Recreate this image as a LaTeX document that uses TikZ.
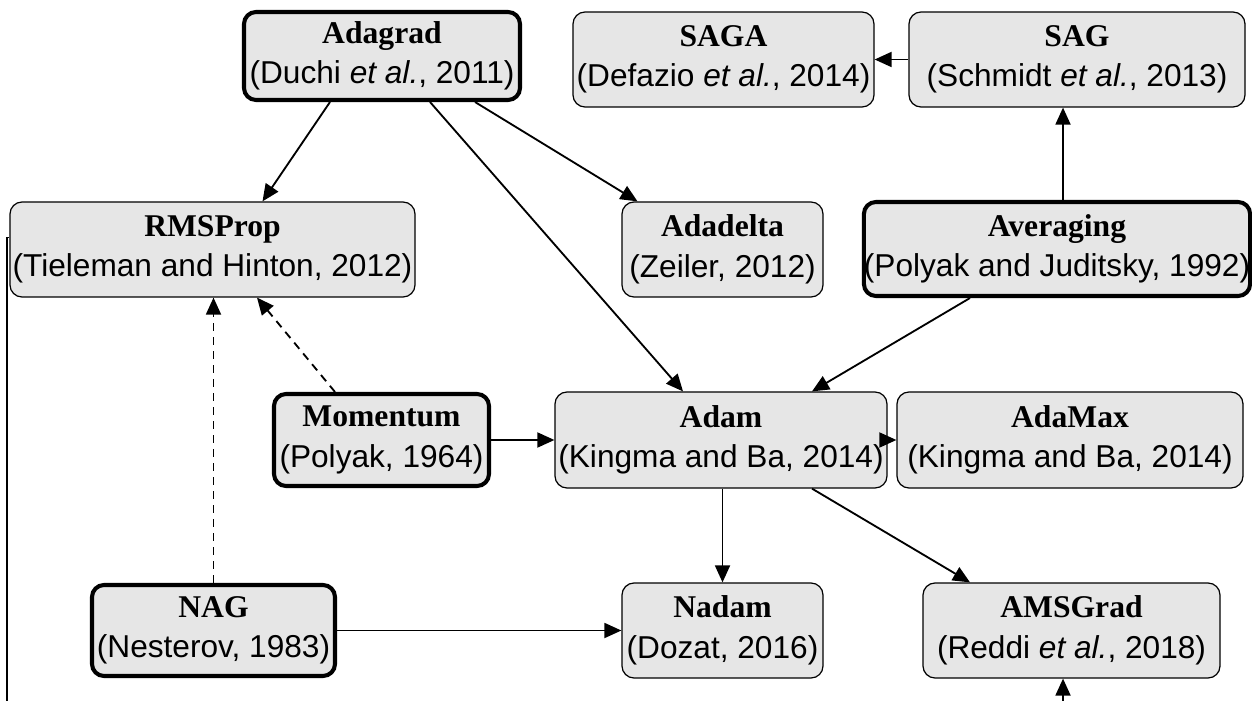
\documentclass[tikz,border=0pt]{standalone}
\usepackage{fontspec}
\setmainfont{Liberation Serif}
\newfontfamily\lsans{Liberation Sans}
\usetikzlibrary{arrows.meta}
\tikzset{
  box/.style={draw=black, fill=boxgray, rounded corners=0.24cm, line width=0.7pt,
    align=center, inner sep=0pt, minimum height=1.9cm,
    font=\fontsize{18}{23}\selectfont},
  thickbox/.style={box, line width=2.3pt},
  arr/.style={line width=1.05pt, -{Triangle[length=0.34cm,width=0.3cm]}},
  darr/.style={arr, dash pattern=on 0.16cm off 0.12cm}
}
\definecolor{boxgray}{HTML}{E6E6E6}
\newcommand{\ttl}[2]{\textbf{#1}\\{\lsans #2}}
\begin{document}
\begin{tikzpicture}
\useasboundingbox (0,0) rectangle (25.04,14);
\clip (0,0) rectangle (25.04,14);
\node[thickbox, minimum width=5.52cm, minimum height=1.76cm] (ada) at (7.64,12.88) {\ttl{Adagrad}{(Duchi \textit{et al.}, 2011)}};
\node[box, minimum width=6.02cm] (saga) at (14.47,12.81) {\ttl{SAGA}{(Defazio \textit{et al.}, 2014)}};
\node[box, minimum width=6.72cm] (sag) at (21.54,12.81) {\ttl{SAG}{(Schmidt \textit{et al.}, 2013)}};
\node[box, minimum width=8.1cm] (rms) at (4.25,9.01) {\ttl{RMSProp}{(Tieleman and Hinton, 2012)}};
\node[box, minimum width=4.02cm] (adadelta) at (14.45,9.01) {\ttl{Adadelta}{(Zeiler, 2012)}};
\node[thickbox, minimum width=7.52cm, minimum height=1.88cm] (avg) at (21.14,9.02) {\ttl{Averaging}{(Polyak and Juditsky, 1992)}};
\node[thickbox, minimum width=4.3cm, minimum height=1.84cm] (mom) at (7.63,5.2) {\ttl{Momentum}{(Polyak, 1964)}};
\node[box, minimum width=6.64cm, minimum height=1.92cm] (adam) at (14.42,5.2) {\ttl{Adam}{(Kingma and Ba, 2014)}};
\node[box, minimum width=6.92cm, minimum height=1.92cm] (adamax) at (21.4,5.2) {\ttl{AdaMax}{(Kingma and Ba, 2014)}};
\node[thickbox, minimum width=4.86cm, minimum height=1.82cm] (nag) at (4.27,1.39) {\ttl{NAG}{(Nesterov, 1983)}};
\node[box, minimum width=4.02cm] (nadam) at (14.45,1.39) {\ttl{Nadam}{(Dozat, 2016)}};
\node[box, minimum width=5.94cm] (ams) at (21.43,1.39) {\ttl{AMSGrad}{(Reddi \textit{et al.}, 2018)}};
% edges
\draw[arr] ([xshift=-1.04cm]ada.south) -- ([xshift=1.0cm]rms.north);
\draw[arr] ([xshift=1.86cm]ada.south) -- ([xshift=-1.7cm]adadelta.north);
\draw[arr] ([xshift=0.96cm]ada.south) -- ([xshift=-0.76cm]adam.north);
\draw[arr] (sag.west) -- (saga.east);
\draw[arr] ([xshift=0.12cm]avg.north) -- ([xshift=0.12cm]avg.north |- sag.south);
\draw[arr] ([xshift=-1.74cm]avg.south) -- ([xshift=1.82cm]adam.north);
\draw[darr] ([xshift=-0.93cm]mom.north) -- ([xshift=0.89cm]rms.south);
\draw[darr] (nag.north) -- (nag.north |- rms.south);
\draw[arr] (mom.east) -- (adam.west);
\draw[arr] (adam.east) -- (adamax.west);
\draw[arr] (adam.south -| nadam.north) -- (nadam.north);
\draw[arr] ([xshift=1.82cm]adam.south) -- ([xshift=-2.03cm]ams.north);
\draw[arr] (nag.east) -- (nadam.west);
\coordinate (lowL) at (0.14,-1.5);
\draw[arr] ([yshift=0.24cm]rms.west) -- ([yshift=0.24cm]rms.west -| lowL) -- (lowL) -| ([xshift=-0.17cm]ams.south);
\end{tikzpicture}
\end{document}
